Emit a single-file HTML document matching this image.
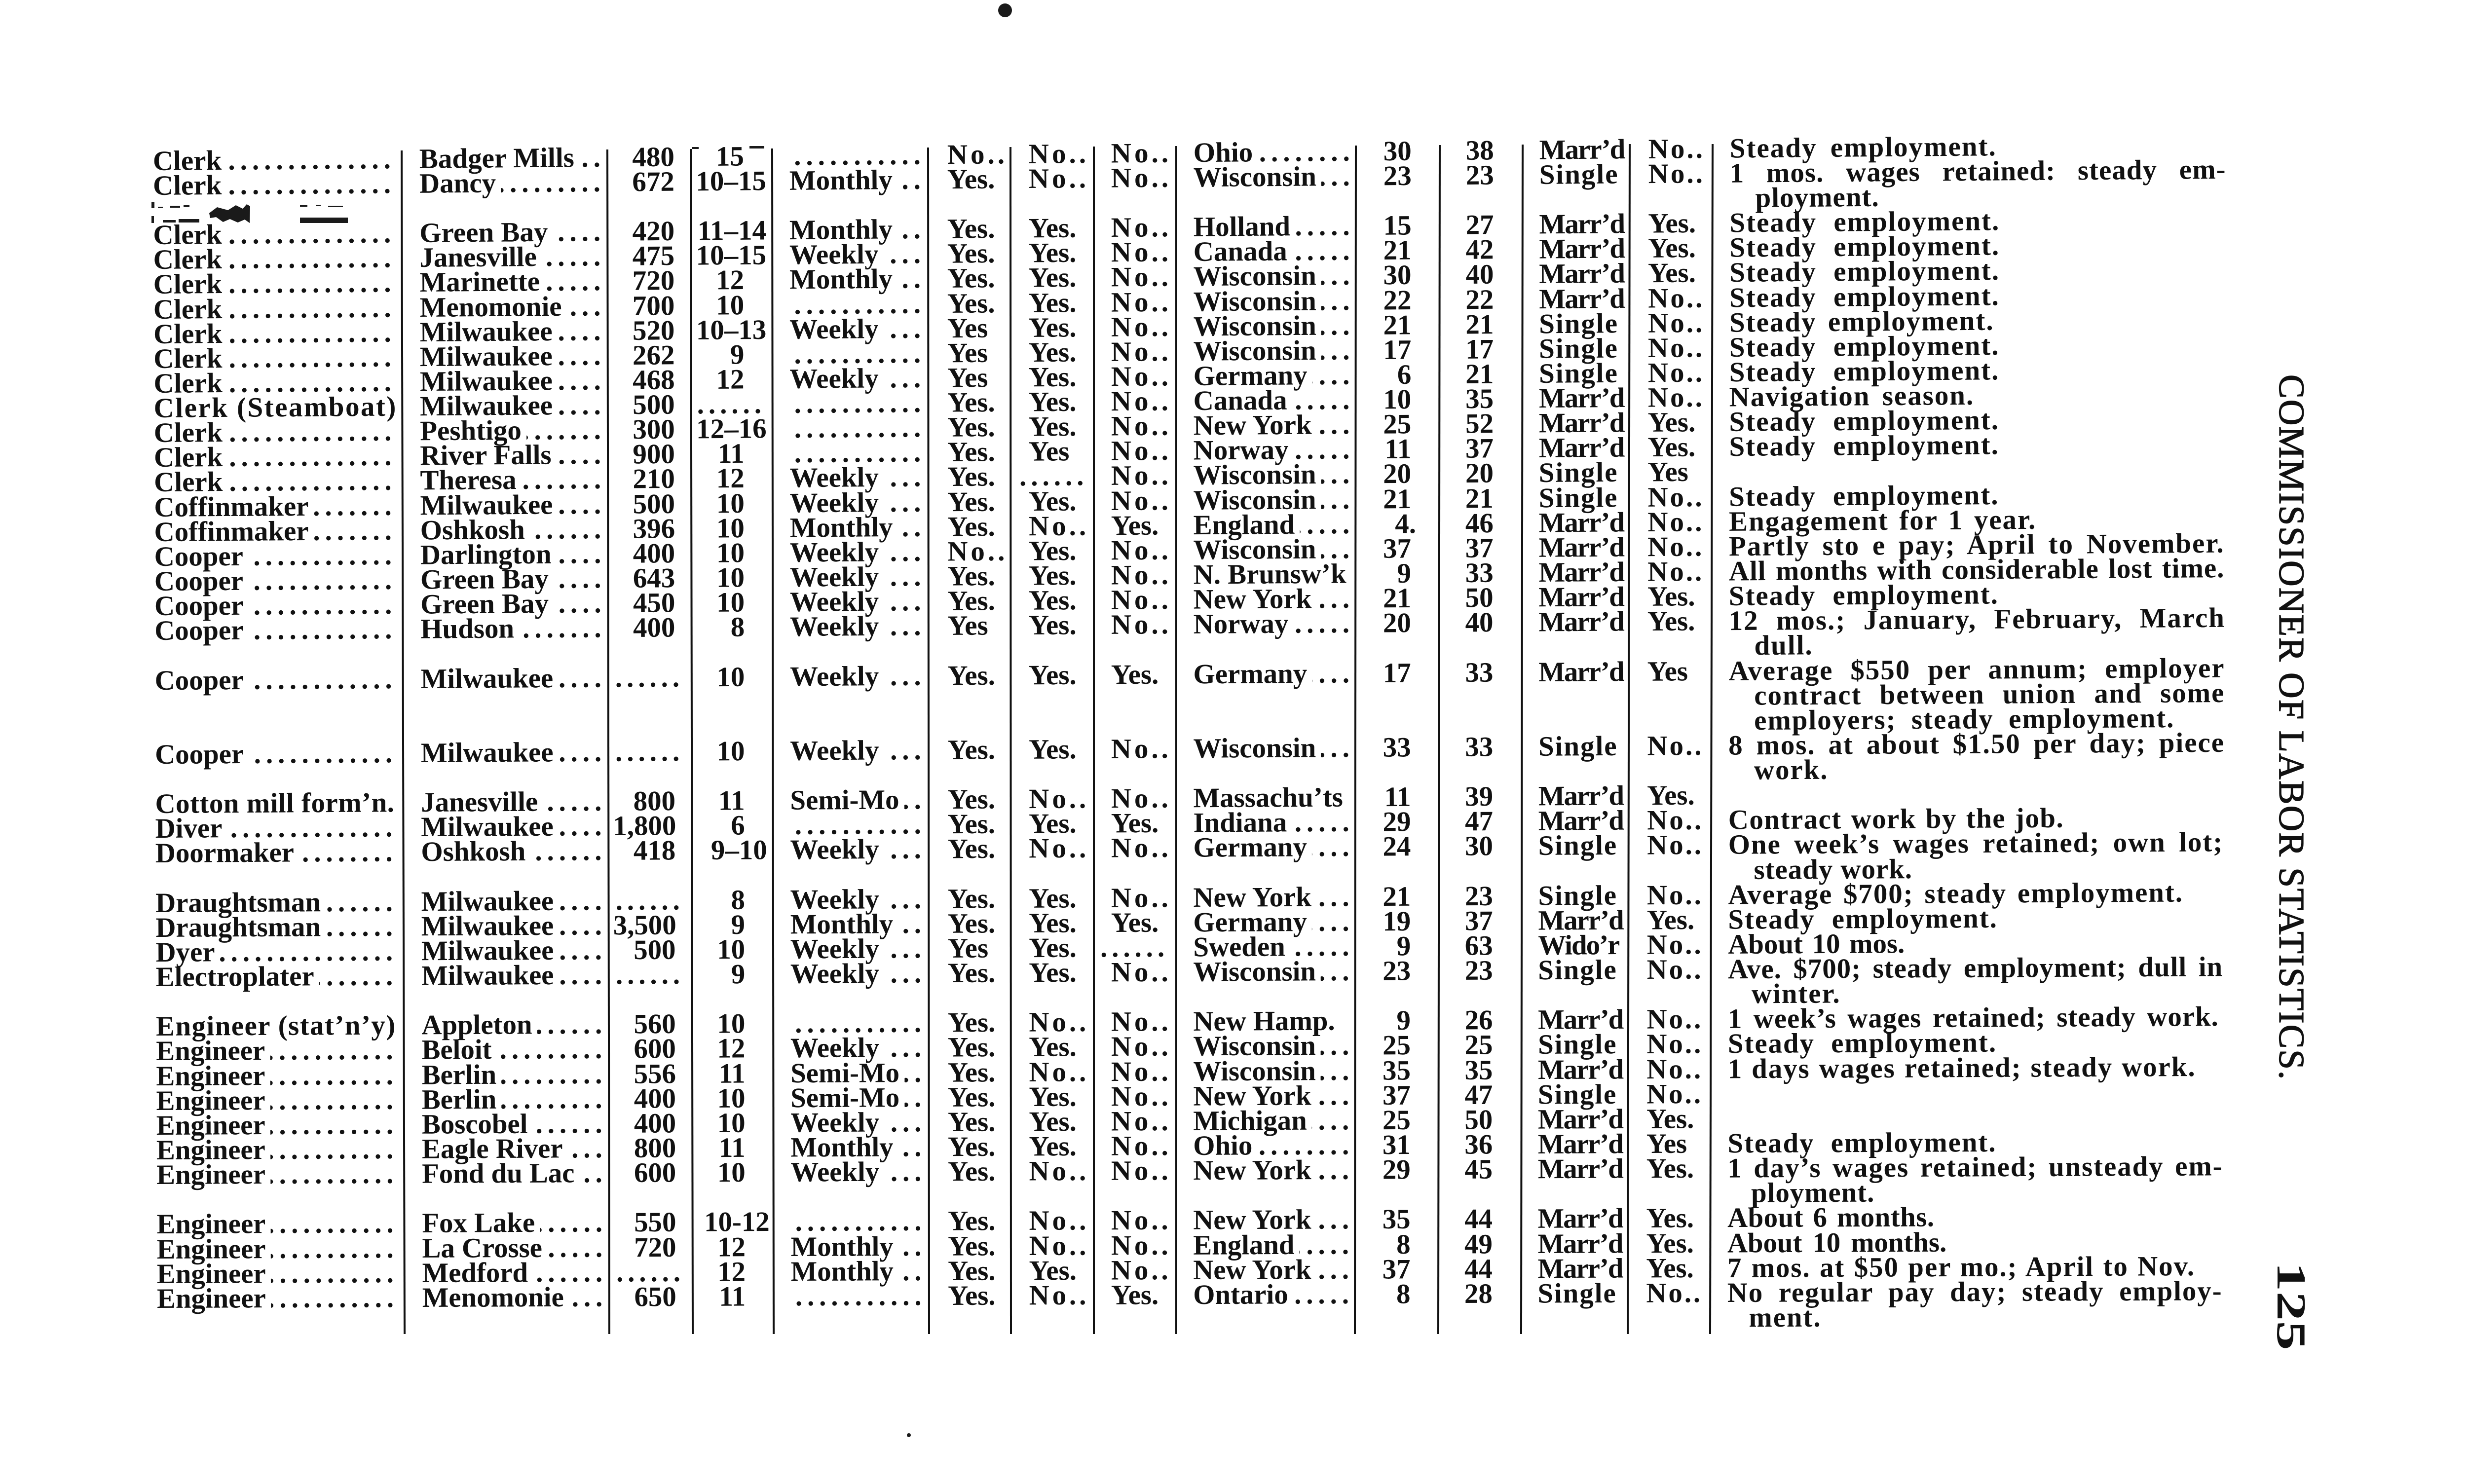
<!DOCTYPE html>
<html><head><meta charset="utf-8">
<style>
html,body{margin:0;padding:0;overflow:hidden}
body{width:5040px;height:3008px;background:#fff;position:relative;font-family:"Liberation Serif",serif;font-weight:700;font-size:57px;color:#111}
.r{position:absolute;left:0;width:4600px;height:50px;line-height:50px;white-space:nowrap;
top:calc(301.8px + (var(--i) - 1) * 50.13px);
transform-origin:310px 44.2px;
transform:translateX(calc((var(--i) - 1) * 0.176px)) rotate(calc(-0.4572deg + (var(--i) - 1) * 0.005262deg)) scaleX(calc(1 - (var(--i) - 1) * 0.00009));}
.c{position:absolute;top:0;height:50px;line-height:50px;white-space:nowrap}
.o{left:310px;width:482px;display:flex}
.l{left:850px;width:367px;display:flex}
.p{left:1600px;width:266px;display:flex}
.pd{left:1588px;width:278px;display:flex}
.n{left:2419px;width:317px;display:flex}
.ld{flex:1 1 0;min-width:0;overflow:hidden;direction:rtl;letter-spacing:10px;margin-left:10px;margin-right:-10px}
.a{left:1240px;width:127px;text-align:right}
.ad{left:1245px;letter-spacing:9px}
.h{left:1400px;width:108px;text-align:right}
.hr{left:1400px;width:153px;text-align:right}
.hd{left:1412px;letter-spacing:9px}
.y1{left:1920px}.y2{left:2085px}.y3{left:2252px}
.y2d{left:2066px;letter-spacing:9px}
.y3d{left:2230px;letter-spacing:9px}
.ys{left:2760px;width:101px;text-align:right}
.ag{left:2930px;width:98px;text-align:right}
.cj{left:3120px;letter-spacing:2px}
.cj.m{letter-spacing:-2px}
.oh{left:3341px}
.no{letter-spacing:6px}
.oh.no{letter-spacing:4px}
.nt{left:3506px;letter-spacing:2px}
.nc{left:3558px;letter-spacing:2px}
.j{display:inline-block;white-space:normal;text-align:justify;text-align-last:justify}
.ov{position:absolute;left:0;top:0}
</style></head><body>

<svg class="ov" width="5040" height="3008" viewBox="0 0 5040 3008">
<g stroke="#111" stroke-width="4" fill="none">
<line x1="814" y1="305" x2="820" y2="2704"/>
<line x1="1231" y1="303" x2="1235" y2="2704"/>
<line x1="1400" y1="302" x2="1404" y2="2704"/>
<line x1="1565" y1="301" x2="1568" y2="2704"/>
<line x1="1881" y1="299" x2="1883" y2="2704"/>
<line x1="2048" y1="298" x2="2049" y2="2704"/>
<line x1="2217" y1="297" x2="2217" y2="2704"/>
<line x1="2384" y1="296" x2="2384" y2="2704"/>
<line x1="2748" y1="295" x2="2746" y2="2704"/>
<line x1="2918" y1="294" x2="2915" y2="2704"/>
<line x1="3086" y1="293" x2="3083" y2="2704"/>
<line x1="3303" y1="292" x2="3299" y2="2704"/>
<line x1="3471" y1="292" x2="3466" y2="2704"/>
</g>
<g fill="#1a1a1a">
<ellipse cx="2037" cy="21" rx="14" ry="14"/>
<circle cx="1842" cy="2909" r="4"/>
<rect x="1519" y="296" width="30" height="5"/>
<rect x="1402" y="298" width="14" height="4"/>
<rect x="307" y="409" width="6" height="13"/>
<rect x="320" y="419" width="10" height="3"/>
<rect x="345" y="417" width="20" height="4"/>
<rect x="372" y="416" width="12" height="4"/>
<rect x="307" y="438" width="5" height="14"/>
<rect x="330" y="446" width="26" height="5"/>
<rect x="362" y="444" width="42" height="7"/>
<polygon points="424,432 440,420 462,426 478,416 492,423 500,414 507,418 506,452 496,445 482,451 466,444 452,450 438,440 426,442"/>
<rect x="608" y="416" width="15" height="3"/>
<rect x="640" y="415" width="10" height="3"/>
<rect x="665" y="417" width="30" height="3"/>
<rect x="608" y="441" width="97" height="11"/>
</g>
</svg>

<div style="position:absolute;left:4681px;top:759px;font:400 73px/73px 'Liberation Serif',serif;letter-spacing:2px;white-space:nowrap;color:#111;-webkit-text-stroke:1.3px #111;transform-origin:0 0;transform:rotate(90deg)">COMMISSIONER OF LABOR STATISTICS.</div>
<div style="position:absolute;left:4685px;top:2558px;font:700 84px/84px 'Liberation Serif',serif;white-space:nowrap;color:#111;transform-origin:0 0;transform:rotate(90deg) scaleX(1.42)">125</div>

<div class="r" style="--i:1"><div class="c o"><span>Clerk</span><span class="ld">.........................</span></div><div class="c l"><span>Badger Mills</span><span class="ld">.........................</span></div><div class="c a">480</div><div class="c h">15</div><div class="c pd"><span class="ld">.........................</span></div><div class="c y1 no">No..</div><div class="c y2 no">No..</div><div class="c y3 no">No..</div><div class="c n"><span>Ohio</span><span class="ld">.........................</span></div><div class="c ys">30</div><div class="c ag">38</div><div class="c cj m">Marr’d</div><div class="c oh no">No..</div><div class="c nt"><span class="j" style="width:541px">Steady employment.</span></div></div>

<div class="r" style="--i:2"><div class="c o"><span>Clerk</span><span class="ld">.........................</span></div><div class="c l"><span>Dancy</span><span class="ld">.........................</span></div><div class="c a">672</div><div class="c hr">10–15</div><div class="c p"><span>Monthly</span><span class="ld">.........................</span></div><div class="c y1">Yes.</div><div class="c y2 no">No..</div><div class="c y3 no">No..</div><div class="c n"><span>Wisconsin</span><span class="ld">.........................</span></div><div class="c ys">23</div><div class="c ag">23</div><div class="c cj">Single</div><div class="c oh no">No..</div><div class="c nt" style="letter-spacing:1px"><span class="j" style="width:1006px">1 mos. wages retained: steady em-</span></div></div>

<div class="r" style="--i:3"><div class="c nc" style="letter-spacing:1px">ployment.</div></div>

<div class="r" style="--i:4"><div class="c o"><span>Clerk</span><span class="ld">.........................</span></div><div class="c l"><span>Green Bay</span><span class="ld">.........................</span></div><div class="c a">420</div><div class="c hr">11–14</div><div class="c p"><span>Monthly</span><span class="ld">.........................</span></div><div class="c y1">Yes.</div><div class="c y2">Yes.</div><div class="c y3 no">No..</div><div class="c n"><span>Holland</span><span class="ld">.........................</span></div><div class="c ys">15</div><div class="c ag">27</div><div class="c cj m">Marr’d</div><div class="c oh">Yes.</div><div class="c nt"><span class="j" style="width:548px">Steady employment.</span></div></div>

<div class="r" style="--i:5"><div class="c o"><span>Clerk</span><span class="ld">.........................</span></div><div class="c l"><span>Janesville</span><span class="ld">.........................</span></div><div class="c a">475</div><div class="c hr">10–15</div><div class="c p"><span>Weekly</span><span class="ld">.........................</span></div><div class="c y1">Yes.</div><div class="c y2">Yes.</div><div class="c y3 no">No..</div><div class="c n"><span>Canada</span><span class="ld">.........................</span></div><div class="c ys">21</div><div class="c ag">42</div><div class="c cj m">Marr’d</div><div class="c oh">Yes.</div><div class="c nt"><span class="j" style="width:548px">Steady employment.</span></div></div>

<div class="r" style="--i:6"><div class="c o"><span>Clerk</span><span class="ld">.........................</span></div><div class="c l"><span>Marinette</span><span class="ld">.........................</span></div><div class="c a">720</div><div class="c h">12</div><div class="c p"><span>Monthly</span><span class="ld">.........................</span></div><div class="c y1">Yes.</div><div class="c y2">Yes.</div><div class="c y3 no">No..</div><div class="c n"><span>Wisconsin</span><span class="ld">.........................</span></div><div class="c ys">30</div><div class="c ag">40</div><div class="c cj m">Marr’d</div><div class="c oh">Yes.</div><div class="c nt"><span class="j" style="width:548px">Steady employment.</span></div></div>

<div class="r" style="--i:7"><div class="c o"><span>Clerk</span><span class="ld">.........................</span></div><div class="c l"><span>Menomonie</span><span class="ld">.........................</span></div><div class="c a">700</div><div class="c h">10</div><div class="c pd"><span class="ld">.........................</span></div><div class="c y1">Yes.</div><div class="c y2">Yes.</div><div class="c y3 no">No..</div><div class="c n"><span>Wisconsin</span><span class="ld">.........................</span></div><div class="c ys">22</div><div class="c ag">22</div><div class="c cj m">Marr’d</div><div class="c oh no">No..</div><div class="c nt"><span class="j" style="width:548px">Steady employment.</span></div></div>

<div class="r" style="--i:8"><div class="c o"><span>Clerk</span><span class="ld">.........................</span></div><div class="c l"><span>Milwaukee</span><span class="ld">.........................</span></div><div class="c a">520</div><div class="c hr">10–13</div><div class="c p"><span>Weekly</span><span class="ld">.........................</span></div><div class="c y1">Yes</div><div class="c y2">Yes.</div><div class="c y3 no">No..</div><div class="c n"><span>Wisconsin</span><span class="ld">.........................</span></div><div class="c ys">21</div><div class="c ag">21</div><div class="c cj">Single</div><div class="c oh no">No..</div><div class="c nt"><span class="j" style="width:537px">Steady employment.</span></div></div>

<div class="r" style="--i:9"><div class="c o"><span>Clerk</span><span class="ld">.........................</span></div><div class="c l"><span>Milwaukee</span><span class="ld">.........................</span></div><div class="c a">262</div><div class="c h">9</div><div class="c pd"><span class="ld">.........................</span></div><div class="c y1">Yes</div><div class="c y2">Yes.</div><div class="c y3 no">No..</div><div class="c n"><span>Wisconsin</span><span class="ld">.........................</span></div><div class="c ys">17</div><div class="c ag">17</div><div class="c cj">Single</div><div class="c oh no">No..</div><div class="c nt"><span class="j" style="width:548px">Steady employment.</span></div></div>

<div class="r" style="--i:10"><div class="c o"><span>Clerk</span><span class="ld">.........................</span></div><div class="c l"><span>Milwaukee</span><span class="ld">.........................</span></div><div class="c a">468</div><div class="c h">12</div><div class="c p"><span>Weekly</span><span class="ld">.........................</span></div><div class="c y1">Yes</div><div class="c y2">Yes.</div><div class="c y3 no">No..</div><div class="c n"><span>Germany</span><span class="ld">.........................</span></div><div class="c ys">6</div><div class="c ag">21</div><div class="c cj">Single</div><div class="c oh no">No..</div><div class="c nt"><span class="j" style="width:548px">Steady employment.</span></div></div>

<div class="r" style="--i:11"><div class="c o" style="letter-spacing:2.5px">Clerk (Steamboat)</div><div class="c l"><span>Milwaukee</span><span class="ld">.........................</span></div><div class="c a">500</div><div class="c hd">......</div><div class="c pd"><span class="ld">.........................</span></div><div class="c y1">Yes.</div><div class="c y2">Yes.</div><div class="c y3 no">No..</div><div class="c n"><span>Canada</span><span class="ld">.........................</span></div><div class="c ys">10</div><div class="c ag">35</div><div class="c cj m">Marr’d</div><div class="c oh no">No..</div><div class="c nt"><span class="j" style="width:497px">Navigation season.</span></div></div>

<div class="r" style="--i:12"><div class="c o"><span>Clerk</span><span class="ld">.........................</span></div><div class="c l"><span>Peshtigo</span><span class="ld">.........................</span></div><div class="c a">300</div><div class="c hr">12–16</div><div class="c pd"><span class="ld">.........................</span></div><div class="c y1">Yes.</div><div class="c y2">Yes.</div><div class="c y3 no">No..</div><div class="c n"><span>New York</span><span class="ld">.........................</span></div><div class="c ys">25</div><div class="c ag">52</div><div class="c cj m">Marr’d</div><div class="c oh">Yes.</div><div class="c nt"><span class="j" style="width:548px">Steady employment.</span></div></div>

<div class="r" style="--i:13"><div class="c o"><span>Clerk</span><span class="ld">.........................</span></div><div class="c l"><span>River Falls</span><span class="ld">.........................</span></div><div class="c a">900</div><div class="c h">11</div><div class="c pd"><span class="ld">.........................</span></div><div class="c y1">Yes.</div><div class="c y2">Yes</div><div class="c y3 no">No..</div><div class="c n"><span>Norway</span><span class="ld">.........................</span></div><div class="c ys">11</div><div class="c ag">37</div><div class="c cj m">Marr’d</div><div class="c oh">Yes.</div><div class="c nt"><span class="j" style="width:548px">Steady employment.</span></div></div>

<div class="r" style="--i:14"><div class="c o"><span>Clerk</span><span class="ld">.........................</span></div><div class="c l"><span>Theresa</span><span class="ld">.........................</span></div><div class="c a">210</div><div class="c h">12</div><div class="c p"><span>Weekly</span><span class="ld">.........................</span></div><div class="c y1">Yes.</div><div class="c y2d">......</div><div class="c y3 no">No..</div><div class="c n"><span>Wisconsin</span><span class="ld">.........................</span></div><div class="c ys">20</div><div class="c ag">20</div><div class="c cj">Single</div><div class="c oh">Yes</div></div>

<div class="r" style="--i:15"><div class="c o"><span>Coffinmaker</span><span class="ld">.........................</span></div><div class="c l"><span>Milwaukee</span><span class="ld">.........................</span></div><div class="c a">500</div><div class="c h">10</div><div class="c p"><span>Weekly</span><span class="ld">.........................</span></div><div class="c y1">Yes.</div><div class="c y2">Yes.</div><div class="c y3 no">No..</div><div class="c n"><span>Wisconsin</span><span class="ld">.........................</span></div><div class="c ys">21</div><div class="c ag">21</div><div class="c cj">Single</div><div class="c oh no">No..</div><div class="c nt"><span class="j" style="width:548px">Steady employment.</span></div></div>

<div class="r" style="--i:16"><div class="c o"><span>Coffinmaker</span><span class="ld">.........................</span></div><div class="c l"><span>Oshkosh</span><span class="ld">.........................</span></div><div class="c a">396</div><div class="c h">10</div><div class="c p"><span>Monthly</span><span class="ld">.........................</span></div><div class="c y1">Yes.</div><div class="c y2 no">No..</div><div class="c y3">Yes.</div><div class="c n"><span>England</span><span class="ld">.........................</span></div><div class="c ys" style="margin-left:10px">4.</div><div class="c ag">46</div><div class="c cj m">Marr’d</div><div class="c oh no">No..</div><div class="c nt"><span class="j" style="width:624px">Engagement for 1 year.</span></div></div>

<div class="r" style="--i:17"><div class="c o"><span>Cooper</span><span class="ld">.........................</span></div><div class="c l"><span>Darlington</span><span class="ld">.........................</span></div><div class="c a">400</div><div class="c h">10</div><div class="c p"><span>Weekly</span><span class="ld">.........................</span></div><div class="c y1 no">No..</div><div class="c y2">Yes.</div><div class="c y3 no">No..</div><div class="c n"><span>Wisconsin</span><span class="ld">.........................</span></div><div class="c ys">37</div><div class="c ag">37</div><div class="c cj m">Marr’d</div><div class="c oh no">No..</div><div class="c nt"><span class="j" style="width:1006px">Partly sto e pay; April to November.</span></div></div>

<div class="r" style="--i:18"><div class="c o"><span>Cooper</span><span class="ld">.........................</span></div><div class="c l"><span>Green Bay</span><span class="ld">.........................</span></div><div class="c a">643</div><div class="c h">10</div><div class="c p"><span>Weekly</span><span class="ld">.........................</span></div><div class="c y1">Yes.</div><div class="c y2">Yes.</div><div class="c y3 no">No..</div><div class="c n"><span>N. Brunsw’k</span></div><div class="c ys">9</div><div class="c ag">33</div><div class="c cj m">Marr’d</div><div class="c oh no">No..</div><div class="c nt" style="letter-spacing:1px"><span class="j" style="width:1006px">All months with considerable lost time.</span></div></div>

<div class="r" style="--i:19"><div class="c o"><span>Cooper</span><span class="ld">.........................</span></div><div class="c l"><span>Green Bay</span><span class="ld">.........................</span></div><div class="c a">450</div><div class="c h">10</div><div class="c p"><span>Weekly</span><span class="ld">.........................</span></div><div class="c y1">Yes.</div><div class="c y2">Yes.</div><div class="c y3 no">No..</div><div class="c n"><span>New York</span><span class="ld">.........................</span></div><div class="c ys">21</div><div class="c ag">50</div><div class="c cj m">Marr’d</div><div class="c oh">Yes.</div><div class="c nt"><span class="j" style="width:548px">Steady employment.</span></div></div>

<div class="r" style="--i:20"><div class="c o"><span>Cooper</span><span class="ld">.........................</span></div><div class="c l"><span>Hudson</span><span class="ld">.........................</span></div><div class="c a">400</div><div class="c h">8</div><div class="c p"><span>Weekly</span><span class="ld">.........................</span></div><div class="c y1">Yes</div><div class="c y2">Yes.</div><div class="c y3 no">No..</div><div class="c n"><span>Norway</span><span class="ld">.........................</span></div><div class="c ys">20</div><div class="c ag">40</div><div class="c cj m">Marr’d</div><div class="c oh">Yes.</div><div class="c nt"><span class="j" style="width:1008px">12 mos.; January, February, March</span></div></div>

<div class="r" style="--i:21"><div class="c nc">dull.</div></div>

<div class="r" style="--i:22"><div class="c o"><span>Cooper</span><span class="ld">.........................</span></div><div class="c l"><span>Milwaukee</span><span class="ld">.........................</span></div><div class="c ad">......</div><div class="c h">10</div><div class="c p"><span>Weekly</span><span class="ld">.........................</span></div><div class="c y1">Yes.</div><div class="c y2">Yes.</div><div class="c y3">Yes.</div><div class="c n"><span>Germany</span><span class="ld">.........................</span></div><div class="c ys">17</div><div class="c ag">33</div><div class="c cj m">Marr’d</div><div class="c oh">Yes</div><div class="c nt"><span class="j" style="width:1008px">Average $550 per annum; employer</span></div></div>

<div class="r" style="--i:23"><div class="c nc"><span class="j" style="width:956px">contract between union and some</span></div></div>
<div class="r" style="--i:24"><div class="c nc"><span class="j" style="width:854px">employers; steady employment.</span></div></div>

<div class="r" style="--i:25"><div class="c o"><span>Cooper</span><span class="ld">.........................</span></div><div class="c l"><span>Milwaukee</span><span class="ld">.........................</span></div><div class="c ad">......</div><div class="c h">10</div><div class="c p"><span>Weekly</span><span class="ld">.........................</span></div><div class="c y1">Yes.</div><div class="c y2">Yes.</div><div class="c y3 no">No..</div><div class="c n"><span>Wisconsin</span><span class="ld">.........................</span></div><div class="c ys">33</div><div class="c ag">33</div><div class="c cj">Single</div><div class="c oh no">No..</div><div class="c nt"><span class="j" style="width:1008px">8 mos. at about $1.50 per day; piece</span></div></div>

<div class="r" style="--i:26"><div class="c nc">work.</div></div>

<div class="r" style="--i:27"><div class="c o" style="letter-spacing:0.5px">Cotton mill form’n.</div><div class="c l"><span>Janesville</span><span class="ld">.........................</span></div><div class="c a">800</div><div class="c h">11</div><div class="c p"><span>Semi-Mo</span><span class="ld">.........................</span></div><div class="c y1">Yes.</div><div class="c y2 no">No..</div><div class="c y3 no">No..</div><div class="c n"><span>Massachu’ts</span></div><div class="c ys">11</div><div class="c ag">39</div><div class="c cj m">Marr’d</div><div class="c oh">Yes.</div></div>

<div class="r" style="--i:28"><div class="c o"><span>Diver</span><span class="ld">.........................</span></div><div class="c l"><span>Milwaukee</span><span class="ld">.........................</span></div><div class="c a">1,800</div><div class="c h">6</div><div class="c pd"><span class="ld">.........................</span></div><div class="c y1">Yes.</div><div class="c y2">Yes.</div><div class="c y3">Yes.</div><div class="c n"><span>Indiana</span><span class="ld">.........................</span></div><div class="c ys">29</div><div class="c ag">47</div><div class="c cj m">Marr’d</div><div class="c oh no">No..</div><div class="c nt" style="letter-spacing:1.5px"><span class="j" style="width:682px">Contract work by the job.</span></div></div>

<div class="r" style="--i:29"><div class="c o"><span>Doormaker</span><span class="ld">.........................</span></div><div class="c l"><span>Oshkosh</span><span class="ld">.........................</span></div><div class="c a">418</div><div class="c hr">9–10</div><div class="c p"><span>Weekly</span><span class="ld">.........................</span></div><div class="c y1">Yes.</div><div class="c y2 no">No..</div><div class="c y3 no">No..</div><div class="c n"><span>Germany</span><span class="ld">.........................</span></div><div class="c ys">24</div><div class="c ag">30</div><div class="c cj">Single</div><div class="c oh no">No..</div><div class="c nt"><span class="j" style="width:1006px">One week’s wages retained; own lot;</span></div></div>

<div class="r" style="--i:30"><div class="c nc" style="letter-spacing:1px">steady work.</div></div>

<div class="r" style="--i:31"><div class="c o"><span>Draughtsman</span><span class="ld">.........................</span></div><div class="c l"><span>Milwaukee</span><span class="ld">.........................</span></div><div class="c ad">......</div><div class="c h">8</div><div class="c p"><span>Weekly</span><span class="ld">.........................</span></div><div class="c y1">Yes.</div><div class="c y2">Yes.</div><div class="c y3 no">No..</div><div class="c n"><span>New York</span><span class="ld">.........................</span></div><div class="c ys">21</div><div class="c ag">23</div><div class="c cj">Single</div><div class="c oh no">No..</div><div class="c nt"><span class="j" style="width:925px">Average $700; steady employment.</span></div></div>

<div class="r" style="--i:32"><div class="c o"><span>Draughtsman</span><span class="ld">.........................</span></div><div class="c l"><span>Milwaukee</span><span class="ld">.........................</span></div><div class="c a">3,500</div><div class="c h">9</div><div class="c p"><span>Monthly</span><span class="ld">.........................</span></div><div class="c y1">Yes.</div><div class="c y2">Yes.</div><div class="c y3">Yes.</div><div class="c n"><span>Germany</span><span class="ld">.........................</span></div><div class="c ys">19</div><div class="c ag">37</div><div class="c cj m">Marr’d</div><div class="c oh">Yes.</div><div class="c nt"><span class="j" style="width:548px">Steady employment.</span></div></div>

<div class="r" style="--i:33"><div class="c o"><span>Dyer</span><span class="ld">.........................</span></div><div class="c l"><span>Milwaukee</span><span class="ld">.........................</span></div><div class="c a">500</div><div class="c h">10</div><div class="c p"><span>Weekly</span><span class="ld">.........................</span></div><div class="c y1">Yes</div><div class="c y2">Yes.</div><div class="c y3d">......</div><div class="c n"><span>Sweden</span><span class="ld">.........................</span></div><div class="c ys">9</div><div class="c ag">63</div><div class="c cj m">Wido’r</div><div class="c oh no">No..</div><div class="c nt" style="letter-spacing:0px"><span class="j" style="width:359px">About 10 mos.</span></div></div>

<div class="r" style="--i:34"><div class="c o"><span>Electroplater</span><span class="ld">.........................</span></div><div class="c l"><span>Milwaukee</span><span class="ld">.........................</span></div><div class="c ad">......</div><div class="c h">9</div><div class="c p"><span>Weekly</span><span class="ld">.........................</span></div><div class="c y1">Yes.</div><div class="c y2">Yes.</div><div class="c y3 no">No..</div><div class="c n"><span>Wisconsin</span><span class="ld">.........................</span></div><div class="c ys">23</div><div class="c ag">23</div><div class="c cj">Single</div><div class="c oh no">No..</div><div class="c nt" style="letter-spacing:1px"><span class="j" style="width:1006px">Ave. $700; steady employment; dull in</span></div></div>

<div class="r" style="--i:35"><div class="c nc" style="left:3554px">winter.</div></div>

<div class="r" style="--i:36"><div class="c o" style="letter-spacing:1.5px">Engineer (stat’n’y)</div><div class="c l"><span>Appleton</span><span class="ld">.........................</span></div><div class="c a">560</div><div class="c h">10</div><div class="c pd"><span class="ld">.........................</span></div><div class="c y1">Yes.</div><div class="c y2 no">No..</div><div class="c y3 no">No..</div><div class="c n"><span>New Hamp.</span></div><div class="c ys">9</div><div class="c ag">26</div><div class="c cj m">Marr’d</div><div class="c oh no">No..</div><div class="c nt" style="letter-spacing:1px"><span class="j" style="width:998px">1 week’s wages retained; steady work.</span></div></div>

<div class="r" style="--i:37"><div class="c o"><span>Engineer</span><span class="ld">.........................</span></div><div class="c l"><span>Beloit</span><span class="ld">.........................</span></div><div class="c a">600</div><div class="c h">12</div><div class="c p"><span>Weekly</span><span class="ld">.........................</span></div><div class="c y1">Yes.</div><div class="c y2">Yes.</div><div class="c y3 no">No..</div><div class="c n"><span>Wisconsin</span><span class="ld">.........................</span></div><div class="c ys">25</div><div class="c ag">25</div><div class="c cj">Single</div><div class="c oh no">No..</div><div class="c nt"><span class="j" style="width:547px">Steady employment.</span></div></div>

<div class="r" style="--i:38"><div class="c o"><span>Engineer</span><span class="ld">.........................</span></div><div class="c l"><span>Berlin</span><span class="ld">.........................</span></div><div class="c a">556</div><div class="c h">11</div><div class="c p"><span>Semi-Mo</span><span class="ld">.........................</span></div><div class="c y1">Yes.</div><div class="c y2 no">No..</div><div class="c y3 no">No..</div><div class="c n"><span>Wisconsin</span><span class="ld">.........................</span></div><div class="c ys">35</div><div class="c ag">35</div><div class="c cj m">Marr’d</div><div class="c oh no">No..</div><div class="c nt"><span class="j" style="width:952px">1 days wages retained; steady work.</span></div></div>

<div class="r" style="--i:39"><div class="c o"><span>Engineer</span><span class="ld">.........................</span></div><div class="c l"><span>Berlin</span><span class="ld">.........................</span></div><div class="c a">400</div><div class="c h">10</div><div class="c p"><span>Semi-Mo</span><span class="ld">.........................</span></div><div class="c y1">Yes.</div><div class="c y2">Yes.</div><div class="c y3 no">No..</div><div class="c n"><span>New York</span><span class="ld">.........................</span></div><div class="c ys">37</div><div class="c ag">47</div><div class="c cj">Single</div><div class="c oh no">No..</div></div>

<div class="r" style="--i:40"><div class="c o"><span>Engineer</span><span class="ld">.........................</span></div><div class="c l"><span>Boscobel</span><span class="ld">.........................</span></div><div class="c a">400</div><div class="c h">10</div><div class="c p"><span>Weekly</span><span class="ld">.........................</span></div><div class="c y1">Yes.</div><div class="c y2">Yes.</div><div class="c y3 no">No..</div><div class="c n"><span>Michigan</span><span class="ld">.........................</span></div><div class="c ys">25</div><div class="c ag">50</div><div class="c cj m">Marr’d</div><div class="c oh">Yes.</div></div>

<div class="r" style="--i:41"><div class="c o"><span>Engineer</span><span class="ld">.........................</span></div><div class="c l"><span>Eagle River</span><span class="ld">.........................</span></div><div class="c a">800</div><div class="c h">11</div><div class="c p"><span>Monthly</span><span class="ld">.........................</span></div><div class="c y1">Yes.</div><div class="c y2">Yes.</div><div class="c y3 no">No..</div><div class="c n"><span>Ohio</span><span class="ld">.........................</span></div><div class="c ys">31</div><div class="c ag">36</div><div class="c cj m">Marr’d</div><div class="c oh">Yes</div><div class="c nt"><span class="j" style="width:547px">Steady employment.</span></div></div>

<div class="r" style="--i:42"><div class="c o"><span>Engineer</span><span class="ld">.........................</span></div><div class="c l"><span>Fond du Lac</span><span class="ld">.........................</span></div><div class="c a">600</div><div class="c h">10</div><div class="c p"><span>Weekly</span><span class="ld">.........................</span></div><div class="c y1">Yes.</div><div class="c y2 no">No..</div><div class="c y3 no">No..</div><div class="c n"><span>New York</span><span class="ld">.........................</span></div><div class="c ys">29</div><div class="c ag">45</div><div class="c cj m">Marr’d</div><div class="c oh">Yes.</div><div class="c nt"><span class="j" style="width:1008px">1 day’s wages retained; unsteady em-</span></div></div>

<div class="r" style="--i:43"><div class="c nc" style="left:3554px;letter-spacing:1px">ployment.</div></div>

<div class="r" style="--i:44"><div class="c o"><span>Engineer</span><span class="ld">.........................</span></div><div class="c l"><span>Fox Lake</span><span class="ld">.........................</span></div><div class="c a">550</div><div class="c hr" style="width:157px">10-12</div><div class="c pd"><span class="ld">.........................</span></div><div class="c y1">Yes.</div><div class="c y2 no">No..</div><div class="c y3 no">No..</div><div class="c n"><span>New York</span><span class="ld">.........................</span></div><div class="c ys">35</div><div class="c ag">44</div><div class="c cj m">Marr’d</div><div class="c oh">Yes.</div><div class="c nt" style="letter-spacing:0.5px"><span class="j" style="width:421px">About 6 months.</span></div></div>

<div class="r" style="--i:45"><div class="c o"><span>Engineer</span><span class="ld">.........................</span></div><div class="c l"><span>La Crosse</span><span class="ld">.........................</span></div><div class="c a">720</div><div class="c h">12</div><div class="c p"><span>Monthly</span><span class="ld">.........................</span></div><div class="c y1">Yes.</div><div class="c y2 no">No..</div><div class="c y3 no">No..</div><div class="c n"><span>England</span><span class="ld">.........................</span></div><div class="c ys">8</div><div class="c ag">49</div><div class="c cj m">Marr’d</div><div class="c oh">Yes.</div><div class="c nt" style="letter-spacing:0px"><span class="j" style="width:446px">About 10 months.</span></div></div>

<div class="r" style="--i:46"><div class="c o"><span>Engineer</span><span class="ld">.........................</span></div><div class="c l"><span>Medford</span><span class="ld">.........................</span></div><div class="c ad">......</div><div class="c h">12</div><div class="c p"><span>Monthly</span><span class="ld">.........................</span></div><div class="c y1">Yes.</div><div class="c y2">Yes.</div><div class="c y3 no">No..</div><div class="c n"><span>New York</span><span class="ld">.........................</span></div><div class="c ys">37</div><div class="c ag">44</div><div class="c cj m">Marr’d</div><div class="c oh">Yes.</div><div class="c nt"><span class="j" style="width:952px">7 mos. at $50 per mo.; April to Nov.</span></div></div>

<div class="r" style="--i:47"><div class="c o"><span>Engineer</span><span class="ld">.........................</span></div><div class="c l"><span>Menomonie</span><span class="ld">.........................</span></div><div class="c a">650</div><div class="c h">11</div><div class="c pd"><span class="ld">.........................</span></div><div class="c y1">Yes.</div><div class="c y2 no">No..</div><div class="c y3">Yes.</div><div class="c n"><span>Ontario</span><span class="ld">.........................</span></div><div class="c ys">8</div><div class="c ag">28</div><div class="c cj">Single</div><div class="c oh no">No..</div><div class="c nt"><span class="j" style="width:1008px">No regular pay day; steady employ-</span></div></div>

<div class="r" style="--i:48"><div class="c nc" style="left:3550px">ment.</div></div>

</body></html>
